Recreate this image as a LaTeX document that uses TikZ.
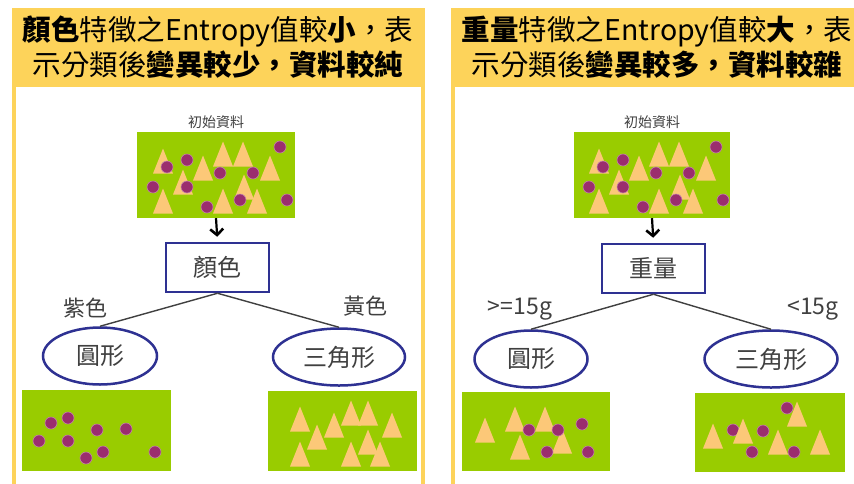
\documentclass[tikz,border=0pt]{standalone}
\usepackage{fontspec}
\setmainfont{Noto Sans CJK TC}
\usetikzlibrary{shapes.geometric,arrows.meta}

\definecolor{verde}{HTML}{99CC00}
\definecolor{laranja}{HTML}{FCC878}
\definecolor{roxo}{HTML}{9B2D6E}
\definecolor{amarelo}{HTML}{FDD35A}
\definecolor{azul}{HTML}{2E3192}
\definecolor{cinza}{HTML}{404040}

\begin{document}
\begin{tikzpicture}[x=1pt, y=-1pt,
  titulo/.style={align=center, font=\fontsize{28.5}{35}\selectfont, inner sep=0pt},
  dados/.style={rectangle, fill=verde, inner sep=0pt},
  rotulo/.style={text=cinza, font=\fontsize{14}{16}\selectfont},
  teste/.style={rectangle, draw=azul, line width=2.5pt, fill=white, minimum width=103pt,
    minimum height=49pt, text=cinza, font=\fontsize{24}{26}\selectfont},
  folha/.style={ellipse, draw=azul, line width=2.5pt, fill=white, minimum height=57pt,
    text=cinza, font=\fontsize{24}{26}\selectfont},
  ramo/.style={draw=cinza, line width=1.4pt},
  seta/.style={-{Straight Barb[length=6pt, width=13pt, line width=2.6pt]}, line width=2.2pt, shorten >=5pt},
  tri/.style={fill=laranja},
  bola/.style={fill=roxo, draw=roxo!60, line width=0.6pt}]

  \useasboundingbox (0,0) rectangle (854,483);
  \clip (0,0) rectangle (854,483);
  \fill[white] (0,0) rectangle (854,483);

  % Molduras
  \fill[amarelo] (12,8) rectangle (425,495);
  \fill[white] (16,87) rectangle (421,495);
  \fill[amarelo] (451,8) rectangle (870,495);
  \fill[white] (455,87) rectangle (870,495);

  \node[titulo] (t1) at (218,47) {\textbf{顏色}特徵之Entropy值較\textbf{小}，表\\示分類後\textbf{變異較少，資料較純}};
  \node[titulo] (t2) at (657,47) {\textbf{重量}特徵之Entropy值較\textbf{大}，表\\示分類後\textbf{變異較多，資料較雜}};

  % Dados iniciais
  \node[rotulo] (r1) at (216,122) {初始資料};
  \node[rotulo] (r2) at (652,122) {初始資料};
  \node[dados, minimum width=158pt, minimum height=86pt] (ini1) at (216,175) {};
  \node[dados, minimum width=156pt, minimum height=86pt] (ini2) at (652,175) {};
  \foreach \dx in {0,436} {
    \foreach \x/\y in {163/161, 183/182, 163/201, 203/168, 223/154, 243/154,
                       270/168, 244/187, 223/201, 257/201}
      \fill[tri] (\x+\dx-10,\y+12.5) -- ++(10,-25) -- ++(10,25) -- cycle;
    \foreach \x/\y in {280/147, 187/160, 167/167, 220/173, 253/173, 153/187,
                       187/187, 207/207, 240/200, 287/200}
      \filldraw[bola] (\x+\dx,\y) circle (6pt);
  }

  % Arvore esquerda
  \node[teste, minimum width=103pt] (cor) at (217.5,267.5) {顏色};
  \node[folha, minimum width=114pt] (c1) at (100,356) {圓形};
  \node[folha, minimum width=132pt] (c2) at (339,357) {三角形};
  \draw[seta] (ini1.south) -- (cor.north);
  \draw[ramo] (cor.south) -- (c1.north);
  \draw[ramo] (cor.south) -- (c2.north);
  \node[text=cinza, font=\fontsize{22}{24}\selectfont] (l1) at (85,308) {紫色};
  \node[text=cinza, font=\fontsize{22}{24}\selectfont] (l2) at (365,306) {黃色};

  % Arvore direita
  \node[teste] (peso) at (653.5,268.5) {重量};
  \node[folha, minimum width=113pt] (p1) at (531,359) {圓形};
  \node[folha, minimum width=133pt] (p2) at (771,359) {三角形};
  \draw[seta] (ini2.south) -- (peso.north);
  \draw[ramo] (peso.south) -- (p1.north);
  \draw[ramo] (peso.south) -- (p2.north);
  \node[text=cinza, font=\fontsize{23}{25}\selectfont] (l3) at (520,309) {>=15g};
  \node[text=cinza, font=\fontsize{23}{25}\selectfont] (l4) at (813,309) {<15g};

  % Resultados
  \node[dados, minimum width=149pt, minimum height=81pt] (f1) at (96.5,430.5) {};
  \node[dados, minimum width=149pt, minimum height=80pt] (f2) at (342.5,431) {};
  \node[dados, minimum width=148pt, minimum height=79pt] (f3) at (536,431.5) {};
  \node[dados, minimum width=150pt, minimum height=79pt] (f4) at (770,432.5) {};

  \foreach \x/\y in {51/423, 68/418, 97/430, 126/429, 39/441, 68/441,
                     86/458, 103/452, 155/452}
    \filldraw[bola] (\x,\y) circle (6pt);
  \foreach \x/\y in {300/419, 317/437, 334/425, 351/413, 368/413, 392/425,
                     368/442, 300/454, 351/454, 380/454}
    \fill[tri] (\x-10,\y+12.5) -- ++(10,-25) -- ++(10,25) -- cycle;

  \foreach \x/\y in {485/430, 515/419, 545/419, 520/447, 562/441}
    \fill[tri] (\x-10,\y+12.5) -- ++(10,-25) -- ++(10,25) -- cycle;
  \foreach \x/\y in {529/430, 558/430, 582/424, 547/452, 588/452}
    \filldraw[bola] (\x,\y) circle (6pt);

  \foreach \x/\y in {733/430, 787/408}
    \filldraw[bola] (\x,\y) circle (6pt);
  \foreach \x/\y in {713/436, 743/431, 797/414, 778/442, 820/442}
    \fill[tri] (\x-10,\y+12.5) -- ++(10,-25) -- ++(10,25) -- cycle;
  \foreach \x/\y in {763/431, 752/452, 794/452}
    \filldraw[bola] (\x,\y) circle (6pt);
\end{tikzpicture}
\end{document}
